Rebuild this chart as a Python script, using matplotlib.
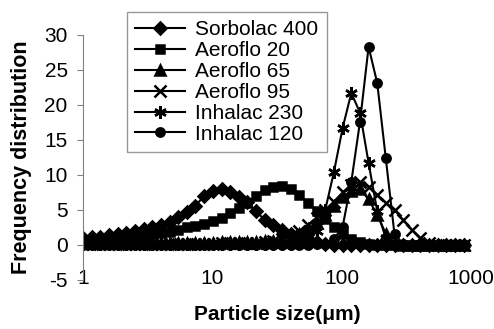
import numpy as np
import matplotlib
matplotlib.use('Agg')
import matplotlib.pyplot as plt

plt.rcParams['font.family'] = ['Liberation Sans', 'DejaVu Sans']
plt.rcParams['axes.unicode_minus'] = False

# particle size bins (um)
sizes = [1.00, 1.17, 1.36, 1.59, 1.85, 2.16, 2.52, 2.94, 3.43, 4.00,
         4.67, 5.45, 6.35, 7.41, 8.65, 10.1, 11.8, 13.7, 16.0, 18.7,
         21.8, 25.4, 29.7, 34.6, 40.4, 47.1, 55.0, 64.1, 74.8, 87.3,
         102, 119, 139, 162, 189, 220, 257, 299, 349, 408,
         475, 555, 647, 755, 881]

sorbolac_400 = [1.0, 1.1, 1.2, 1.4, 1.6, 1.7, 2.0, 2.3, 2.6, 2.9,
                3.3, 4.0, 4.7, 5.6, 7.0, 7.7, 8.0, 7.6, 6.9, 6.1,
                4.8, 3.6, 2.9, 2.1, 1.6, 1.1, 0.7, 0.4, 0.2, 0.0,
                0.0, 0.0, 0.0, 0.0, 0.0, 0.0, 0.0, 0.0, 0.0, 0.0,
                0.0, 0.0, 0.0, 0.0, 0.0]
aeroflo_20 = [0.5, 0.5, 0.6, 0.7, 0.8, 0.9, 1.1, 1.3, 1.5, 1.7,
              1.9, 2.2, 2.5, 2.7, 3.0, 3.4, 3.9, 4.5, 5.3, 6.0,
              7.0, 7.8, 8.3, 8.4, 8.0, 7.2, 6.0, 4.9, 3.7, 2.5,
              1.5, 0.8, 0.4, 0.2, 0.0, 0.0, 0.0, 0.0, 0.0, 0.0,
              0.0, 0.0, 0.0, 0.0, 0.0]
aeroflo_65 = [0.3, 0.3, 0.3, 0.3, 0.3, 0.3, 0.3, 0.3, 0.3, 0.3,
              0.3, 0.3, 0.3, 0.3, 0.3, 0.3, 0.4, 0.4, 0.4, 0.4,
              0.4, 0.5, 0.6, 0.8, 1.1, 1.6, 2.3, 3.2, 4.3, 5.6,
              6.8, 7.7, 8.0, 6.5, 4.3, 1.6, 0.3, 0.0, 0.0, 0.0,
              0.0, 0.0, 0.0, 0.0, 0.0]
aeroflo_95 = [0.2, 0.2, 0.2, 0.2, 0.2, 0.2, 0.2, 0.2, 0.2, 0.2,
              0.2, 0.2, 0.2, 0.2, 0.2, 0.2, 0.3, 0.3, 0.3, 0.3,
              0.3, 0.4, 0.6, 0.9, 1.3, 2.0, 2.9, 3.9, 5.0, 6.2,
              7.5, 8.6, 9.0, 8.3, 7.2, 6.0, 5.0, 3.6, 2.2, 1.0,
              0.3, 0.0, 0.0, 0.0, 0.0]
inhalac_230 = [0.1, 0.1, 0.1, 0.1, 0.1, 0.1, 0.1, 0.1, 0.1, 0.1,
               0.1, 0.1, 0.1, 0.1, 0.1, 0.1, 0.1, 0.1, 0.1, 0.1,
               0.1, 0.2, 0.2, 0.2, 0.2, 0.4, 0.8, 2.0, 5.0, 10.4,
               16.7, 21.7, 18.9, 11.7, 4.8, 1.0, 0.2, 0.0, 0.0, 0.0,
               0.0, 0.0, 0.0, 0.0, 0.0]
inhalac_120 = [0.0, 0.0, 0.0, 0.0, 0.0, 0.0, 0.0, 0.0, 0.0, 0.0,
               0.0, 0.0, 0.0, 0.0, 0.0, 0.0, 0.0, 0.0, 0.0, 0.0,
               0.0, 0.0, 0.0, 0.0, 0.0, 0.0, 0.0, 0.1, 0.2, 0.8,
               2.6, 9.0, 17.6, 28.3, 23.1, 12.4, 1.5, 0.2, 0.0, 0.0,
               0.0, 0.0, 0.0, 0.0, 0.0]

labels = ['Sorbolac 400', 'Aeroflo 20', 'Aeroflo 65', 'Aeroflo 95',
          'Inhalac 230', 'Inhalac 120']
series = [sorbolac_400, aeroflo_20, aeroflo_65, aeroflo_95,
          inhalac_230, inhalac_120]
markers = ['D', 's', '^', 'x', (6, 2, 0), 'o']
msizes = [6, 6, 7, 9, 9, 6]

fig = plt.figure(figsize=(4.94, 3.29), dpi=100)
ax = fig.add_axes([0.168, 0.149, 0.785, 0.745])

for vals, lab, mk, ms in zip(series, labels, markers, msizes):
    ax.plot(sizes, vals, color='k', lw=1.5, marker=mk, ms=ms,
            mew=1.8, mfc='k', mec='k', label=lab)

ax.set_xscale('log')
ax.set_xlim(1, 1000)
ax.set_ylim(-5, 30)
ax.set_yticks(np.arange(-5, 31, 5))
ax.set_xticks([1, 10, 100, 1000])
ax.set_xticklabels(['1', '10', '100', '1000'])
ax.minorticks_off()

for side in ['top', 'right', 'bottom']:
    ax.spines[side].set_visible(False)
ax.spines['left'].set_color('#808080')
ax.tick_params(axis='y', direction='out', length=4, color='#808080',
               labelsize=15, pad=7)
ax.tick_params(axis='x', length=0, labelsize=15, pad=-8)

ax.set_xlabel('Particle size(\u03bcm)', fontsize=15, fontweight='bold',
              labelpad=12)
ax.set_ylabel('Frequency distribution', fontsize=15.5, fontweight='bold',
              labelpad=9)

leg = fig.legend(loc='upper left', bbox_to_anchor=(0.257, 0.9635),
                 bbox_transform=fig.transFigure, borderaxespad=0,
                 fontsize=15, frameon=True, fancybox=False,
                 labelspacing=0.09, handlelength=2.4, handletextpad=0.48,
                 borderpad=0.4)
leg.get_frame().set_edgecolor('#808080')
leg.get_frame().set_linewidth(1.0)

fig.savefig('out.png', dpi=100)
